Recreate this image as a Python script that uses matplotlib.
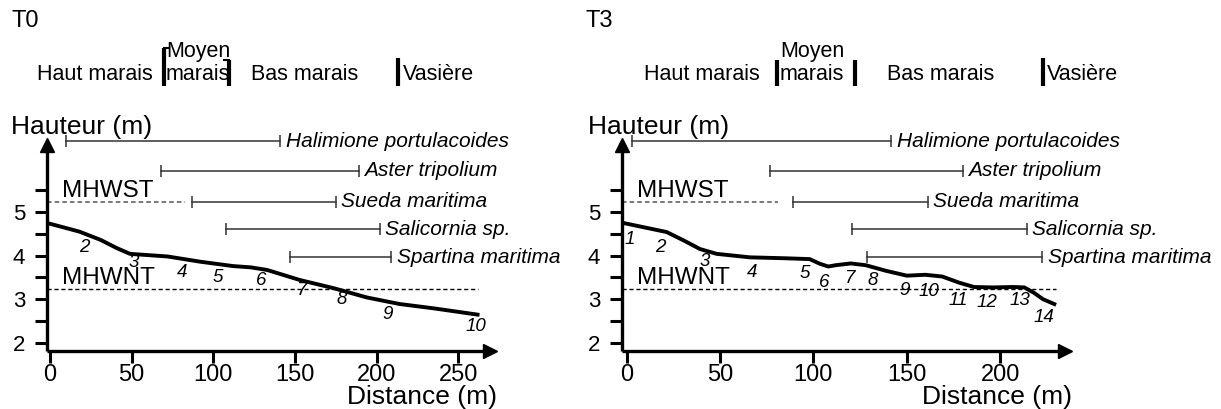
import matplotlib
matplotlib.use('Agg')
import matplotlib.pyplot as plt
import matplotlib.transforms as mtransforms

plt.rcParams['font.family'] = ['Liberation Sans', 'DejaVu Sans']

W, H = 1221, 409

# ---------------- data ----------------
species = ['Halimione portulacoides', 'Aster tripolium', 'Sueda maritima',
           'Salicornia sp.', 'Spartina maritima']

# T0 profile
t0_dist = [-2, 18, 31, 41, 49, 72, 92, 112, 123, 133, 153, 174, 194, 214, 235, 263]
t0_height = [4.75, 4.55, 4.36, 4.17, 4.04, 3.98, 3.86, 3.76, 3.73, 3.67, 3.44, 3.25,
             3.04, 2.89, 2.79, 2.64]
t0_station = ['2', '3', '4', '5', '6', '7', '8', '9', '10']
t0_station_x = [21, 51, 80.6, 103, 129.6, 154, 178.6, 207, 261]
t0_station_y = [4.19, 3.85, 3.62, 3.50, 3.42, 3.20, 2.99, 2.66, 2.37]
t0_sp_start = [10, 68, 87, 108, 147]
t0_sp_end = [141, 189, 175, 202, 209]
t0_zones = [69.7, 109.5, 213]
t0_xticks = [0, 50, 100, 150, 200, 250]

# T3 profile
t3_dist = [-2, 12.5, 21.4, 30.4, 39.3, 48.2, 66, 84, 98, 103.6, 108, 112, 120, 128,
           139, 150, 160, 169, 178, 186, 196, 207, 213, 218, 223, 230]
t3_height = [4.75, 4.62, 4.54, 4.35, 4.15, 4.04, 3.96, 3.94, 3.92, 3.81, 3.75, 3.78,
             3.82, 3.78, 3.65, 3.54, 3.56, 3.52, 3.38, 3.28, 3.27, 3.28, 3.27, 3.15,
             3.0, 2.87]
t3_station = [str(i) for i in range(1, 15)]
t3_station_x = [1.8, 17.9, 42, 67, 95.5, 106, 119.4, 131.9, 148.7, 162, 177.3, 192.8,
                210.4, 223.4]
t3_station_y = [4.36, 4.18, 3.87, 3.62, 3.58, 3.38, 3.48, 3.42, 3.21, 3.18, 2.96, 2.92,
                2.96, 2.59]
t3_sp_start = [3, 76.5, 89, 120.5, 128.5]
t3_sp_end = [141.6, 180, 161.3, 214.2, 222.5]
t3_zones = [80.7, 122.5, 222.9]
t3_xticks = [0, 50, 100, 150, 200]

mhwst = 5.22
mhwnt = 3.24
yticks_major = [2, 3, 4, 5]
yticks_minor = [2.5, 3.5, 4.5, 5.5]

# ---------------- layout ----------------
fig = plt.figure(figsize=(W / 100, H / 100), dpi=100)

Y5 = 212.0      # pixel row of h = 5
PPM_Y = 43.6    # pixels per metre (vertical)
YLIM = (1.4, 7.0)

species_level = [6.62, 5.95, 5.24, 4.6, 3.96]


def make_axes(x0, ppm, xlim):
    left = x0 + ppm * xlim[0]
    right = x0 + ppm * xlim[1]
    top = Y5 - PPM_Y * (YLIM[1] - 5)
    bottom = Y5 + PPM_Y * (5 - YLIM[0])
    ax = fig.add_axes([left / W, 1 - bottom / H, (right - left) / W, (bottom - top) / H])
    ax.set_xlim(*xlim)
    ax.set_ylim(*YLIM)
    ax.patch.set_alpha(0)
    return ax


def draw_panel(ax, yaxis_x, xaxis_y, xhead, dist, height, st, stx, sty,
               sp_start, sp_end, xticks, mhwst_end, mhwnt_end, label_x):
    for s in ['top', 'right']:
        ax.spines[s].set_visible(False)
    ax.spines['left'].set_position(('data', yaxis_x))
    ax.spines['bottom'].set_position(('data', xaxis_y))
    ax.spines['left'].set_bounds(xaxis_y, 6.45)
    ax.spines['bottom'].set_bounds(yaxis_x, xhead - 3)
    for s in ['left', 'bottom']:
        ax.spines[s].set_linewidth(2.4)
        ax.spines[s].set_capstyle('butt')
    ax.plot([yaxis_x], [6.53], marker='^', ms=10, color='black', clip_on=False)
    ax.plot([xhead], [xaxis_y], marker='>', ms=10, color='black', clip_on=False)

    ax.set_xticks(xticks)
    ax.set_xticklabels([str(v) for v in xticks])
    ax.set_yticks(yticks_major)
    ax.set_yticklabels([str(v) for v in yticks_major])
    ax.set_yticks(yticks_minor, minor=True)
    ax.tick_params(axis='both', which='both', direction='out', length=8.5, width=2.2)
    ax.tick_params(axis='x', labelsize=17, pad=1)
    ax.tick_params(axis='y', labelsize=16, pad=7)

    # tide levels
    ax.plot([yaxis_x, mhwst_end], [mhwst, mhwst], color='#555555', lw=1.1,
            dashes=(3, 2))
    ax.plot([yaxis_x, mhwnt_end], [mhwnt, mhwnt], color='black', lw=1.0,
            dashes=(3, 2))
    ax.text(label_x, 5.35, 'MHWST', fontsize=17.5, va='baseline', ha='left')
    ax.text(label_x, 3.35, 'MHWNT', fontsize=17.5, va='baseline', ha='left')

    # profile
    ax.plot(dist, height, color='black', lw=2.8, solid_capstyle='butt',
            solid_joinstyle='round')
    for s, x, y in zip(st, stx, sty):
        ax.text(x, y, s, fontsize=13.5, style='italic', ha='center', va='center')

    # species ranges
    for name, a, b, lev in zip(species, sp_start, sp_end, species_level):
        ax.plot([a, b], [lev, lev], color='#333333', lw=1.1)
        ax.plot([a, b], [lev, lev], ls='none', marker='|', ms=9, mew=1.1,
                color='#333333', clip_on=False)
        ax.annotate(name, (b, lev), xytext=(4, 0), textcoords='offset points',
                    fontsize=15, style='italic', va='center', ha='left',
                    annotation_clip=False)


ax1 = make_axes(50.0, 1.633, (-12, 290))
draw_panel(ax1, -2, 1.82, 269.5, t0_dist, t0_height, t0_station, t0_station_x,
           t0_station_y, t0_sp_start, t0_sp_end, t0_xticks, 82.5, 262, 7.2)

ax2 = make_axes(626.7, 1.867, (-12, 250))
draw_panel(ax2, -2.7, 1.82, 234.6, t3_dist, t3_height, t3_station, t3_station_x,
           t3_station_y, t3_sp_start, t3_sp_end, t3_xticks, 81.3, 229.7, 5.7)


def ftext(x, y, s, **kw):
    fig.text(x / W, 1 - y / H, s, **kw)


# axis titles
for x_lab in [497, 1072]:
    ftext(x_lab, 397, 'Distance (m)', fontsize=19, ha='right', va='center')
ftext(11, 127, 'Hauteur (m)', fontsize=19, ha='left', va='center')
ftext(588, 127, 'Hauteur (m)', fontsize=19, ha='left', va='center')

# panel titles
ftext(11, 21, 'T0', fontsize=17, ha='left', va='center')
ftext(586, 21, 'T3', fontsize=17, ha='left', va='center')


def zone_bar(ax, x, y0, y1, hook=0):
    tr = mtransforms.blended_transform_factory(ax.transData, fig.transFigure)
    ax.plot([x, x], [1 - y0 / H, 1 - y1 / H], color='black', lw=3, transform=tr,
            clip_on=False, solid_capstyle='butt')
    if hook:
        ax.plot([x, x + hook], [1 - y0 / H, 1 - y0 / H], color='black', lw=1.5,
                transform=tr, clip_on=False)


zone_bar(ax1, t0_zones[0], 48, 86, hook=3)
zone_bar(ax1, t0_zones[1], 60, 86, hook=-3)
zone_bar(ax1, t0_zones[2], 58, 86)
zone_bar(ax2, t3_zones[0], 60, 86)
zone_bar(ax2, t3_zones[1], 60, 86)
zone_bar(ax2, t3_zones[2], 58, 86)

fs_zone = 15.5
ftext(37, 74, 'Haut marais', fontsize=fs_zone, ha='left', va='center')
ftext(166, 52, 'Moyen', fontsize=fs_zone, ha='left', va='center')
ftext(166, 74, 'marais', fontsize=fs_zone, ha='left', va='center')
ftext(251, 74, 'Bas marais', fontsize=fs_zone, ha='left', va='center')
ftext(403, 74, 'Vasière', fontsize=fs_zone, ha='left', va='center')

ftext(644, 74, 'Haut marais', fontsize=fs_zone, ha='left', va='center')
ftext(780, 52, 'Moyen', fontsize=fs_zone, ha='left', va='center')
ftext(780, 74, 'marais', fontsize=fs_zone, ha='left', va='center')
ftext(887, 74, 'Bas marais', fontsize=fs_zone, ha='left', va='center')
ftext(1047, 74, 'Vasière', fontsize=fs_zone, ha='left', va='center')

fig.savefig('out.png', dpi=100)
